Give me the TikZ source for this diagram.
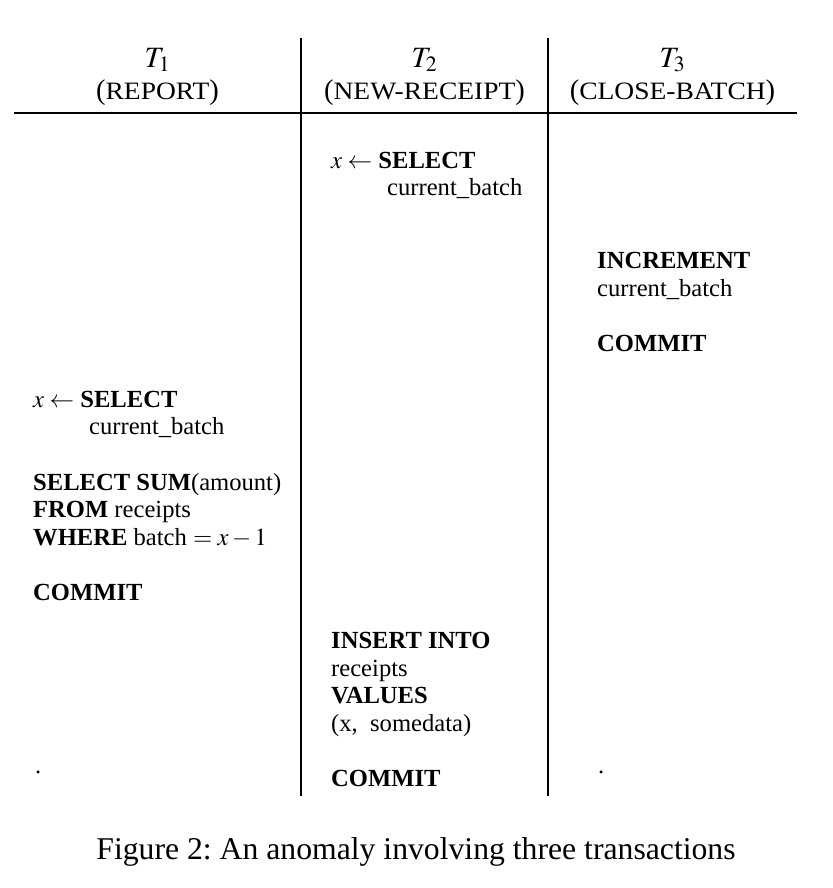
\documentclass[tikz,border=0pt]{standalone}
\usepackage{mathptmx}
\usepackage{fontspec}
\setmainfont{Liberation Serif}
\newfontfamily\hdfont[FakeStretch=1.1]{Liberation Serif}
\begin{document}
\begin{tikzpicture}[x=1pt,y=-1pt,
  body/.style={anchor=base west,inner sep=0pt,font=\fontsize{24.6}{27.7}\selectfont},
  tname/.style={anchor=base,inner sep=0pt,text depth=0pt,font=\fontsize{29.5}{30}\selectfont},
  tlabel/.style={anchor=base,inner sep=0pt,text height=17pt,font=\fontsize{28.5}{30}\selectfont},
  captext/.style={anchor=base,inner sep=0pt,font=\fontsize{31.7}{36}\selectfont},
  vrule/.style={line width=1.6pt},
  hrule/.style={line width=2pt}]
\useasboundingbox (0,0) rectangle (832,888);
\newcommand{\hsc}[1]{{\hdfont\fontsize{25}{28}\selectfont #1}}
\newcommand{\ind}{\hspace*{56pt}}
% rules
\coordinate (v1t) at (301,38);
\coordinate (v1b) at (301,796);
\coordinate (v2t) at (548,38);
\coordinate (v2b) at (548,796);
\coordinate (hl) at (14,113);
\coordinate (hr) at (797,113);
\draw[vrule] (v1t) -- (v1b);
\draw[vrule] (v2t) -- (v2b);
\draw[hrule] (hl) -- (hr);
% headers
\node[tname] (t1) at (157.5,67.5) {$T_1$};
\node[tname] (t2) at (424.5,67.5) {$T_2$};
\node[tname] (t3) at (672.5,67.5) {$T_3$};
\node[tlabel] (l1) at (157.5,99.5) {(\hsc{REPORT})};
\node[tlabel] (l2) at (424.5,99.5) {(\hsc{NEW-RECEIPT})};
\node[tlabel] (l3) at (672.5,99.5) {(\hsc{CLOSE-BATCH})};
% T2 top
\node[body] (b2a) at (331,168.3) {\begin{tabular}[t]{@{}l@{}}
$x \leftarrow$ \textbf{SELECT}\\
\ind current\_batch
\end{tabular}};
% T3
\node[body] (b3) at (597,268.3) {\begin{tabular}[t]{@{}l@{}}
\textbf{INCREMENT}\\
current\_batch\\
\\
\textbf{COMMIT}
\end{tabular}};
% T1
\node[body] (b1) at (33,407) {\begin{tabular}[t]{@{}l@{}}
$x \leftarrow$ \textbf{SELECT}\\
\ind current\_batch\\
\\
\textbf{SELECT SUM}(amount)\\
\textbf{FROM} receipts\\
\textbf{WHERE} batch $= x - 1$\\
\\
\textbf{COMMIT}
\end{tabular}};
% T2 bottom
\node[body] (b2b) at (331,648.3) {\begin{tabular}[t]{@{}l@{}}
\textbf{INSERT INTO}\\
receipts\\
\textbf{VALUES}\\
(x,~~somedata)\\
\\
\textbf{COMMIT}
\end{tabular}};
% dots
\node[body] (d1) at (35,773) {.};
\node[body] (d3) at (598,773) {.};
% caption
\node[captext] (caption) at (416,859) {\frenchspacing Figure 2: An anomaly involving three transactions};
\end{tikzpicture}
\end{document}
